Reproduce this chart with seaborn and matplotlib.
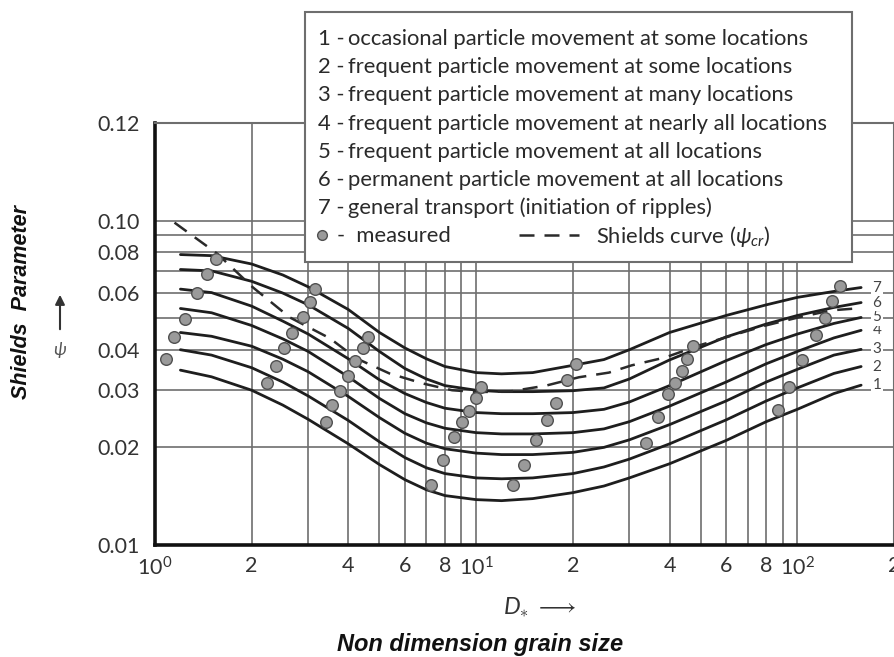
import numpy as np
import pandas as pd
import matplotlib
matplotlib.use("Agg")
import matplotlib.pyplot as plt
import seaborn as sns
from matplotlib.patches import Rectangle, FancyArrowPatch
from matplotlib.lines import Line2D
from matplotlib.ticker import FixedLocator, NullFormatter

# ---------------- data ----------------
D_GRID = [1.2, 1.5, 2, 2.5, 3, 4, 5, 6, 7, 8, 10, 12, 15, 20, 25, 30, 40, 60, 80, 100, 130, 158]

CURVE_1 = [0.0346, 0.0330, 0.0300, 0.0270, 0.0244, 0.0205, 0.0177, 0.0159, 0.0148, 0.0142, 0.0138,
           0.0137, 0.0139, 0.0145, 0.0152, 0.0161, 0.0178, 0.0210, 0.0240, 0.0262, 0.0293, 0.0311]
CURVE_2 = [0.0400, 0.0385, 0.0352, 0.0318, 0.0288, 0.0242, 0.0208, 0.0186, 0.0173, 0.0166, 0.0161,
           0.0160, 0.0161, 0.0166, 0.0174, 0.0184, 0.0205, 0.0243, 0.0278, 0.0305, 0.0338, 0.0355]
CURVE_3 = [0.0452, 0.0440, 0.0410, 0.0374, 0.0342, 0.0287, 0.0247, 0.0221, 0.0206, 0.0198, 0.0192,
           0.0190, 0.0190, 0.0193, 0.0200, 0.0211, 0.0235, 0.0278, 0.0318, 0.0348, 0.0385, 0.0401]
CURVE_4 = [0.0536, 0.0520, 0.0475, 0.0432, 0.0395, 0.0330, 0.0283, 0.0254, 0.0238, 0.0229, 0.0222,
           0.0220, 0.0220, 0.0222, 0.0228, 0.0240, 0.0268, 0.0318, 0.0362, 0.0395, 0.0435, 0.0459]
CURVE_5 = [0.0615, 0.0600, 0.0545, 0.0490, 0.0447, 0.0375, 0.0323, 0.0293, 0.0275, 0.0264, 0.0256,
           0.0254, 0.0254, 0.0256, 0.0262, 0.0276, 0.0310, 0.0370, 0.0415, 0.0447, 0.0482, 0.0503]
CURVE_6 = [0.0707, 0.0700, 0.0650, 0.0598, 0.0550, 0.0465, 0.0395, 0.0350, 0.0325, 0.0310, 0.0300,
           0.0297, 0.0297, 0.0299, 0.0305, 0.0325, 0.0372, 0.0438, 0.0480, 0.0510, 0.0540, 0.0559]
CURVE_7 = [0.0786, 0.0780, 0.0735, 0.0680, 0.0625, 0.0532, 0.0452, 0.0405, 0.0375, 0.0355, 0.0340,
           0.0337, 0.0340, 0.0358, 0.0373, 0.0400, 0.0452, 0.0510, 0.0550, 0.0580, 0.0605, 0.0622]
CURVE_NAMES = ["1", "2", "3", "4", "5", "6", "7"]

SHIELDS_D = [1.15, 1.56, 2.02, 2.63, 3.5, 4.24, 5.37, 6.8, 8.42, 10.2, 12.9, 16.5, 20.9, 25.9,
             30.5, 38.9, 49.3, 62.4, 79.6, 100.7, 127.5, 152]
SHIELDS_PSI = [0.0986, 0.0792, 0.0622, 0.0503, 0.0434, 0.0376, 0.0338, 0.0315, 0.0300, 0.0296,
               0.0298, 0.0310, 0.0329, 0.0340, 0.0358, 0.0379, 0.0412, 0.0442, 0.0475, 0.0503,
               0.0529, 0.0536]

MEAS_D = [1.08, 1.15, 1.24, 1.35, 1.45, 1.55,
          2.24, 2.38, 2.52, 2.68, 2.88, 3.03, 3.16,
          3.40, 3.57, 3.78, 3.98, 4.21, 4.43, 4.59,
          7.25, 7.90, 8.55, 9.05, 9.51, 10.0, 10.36,
          13.0, 14.1, 15.4, 16.6, 17.7, 19.2, 20.4,
          33.7, 36.8, 39.7, 41.5, 43.6, 45.2, 47.2,
          87.3, 94.4, 103.6, 114.6, 122.2, 128.5, 136.0]
MEAS_PSI = [0.0374, 0.0437, 0.0496, 0.0600, 0.0687, 0.0759,
            0.0315, 0.0356, 0.0404, 0.0449, 0.0503, 0.0560, 0.0614,
            0.0239, 0.0270, 0.0298, 0.0331, 0.0368, 0.0404, 0.0439,
            0.0153, 0.0183, 0.0215, 0.0239, 0.0258, 0.0283, 0.0306,
            0.0153, 0.0176, 0.0210, 0.0243, 0.0274, 0.0322, 0.0361,
            0.0206, 0.0248, 0.0292, 0.0315, 0.0343, 0.0374, 0.0412,
            0.0260, 0.0308, 0.0371, 0.0443, 0.0500, 0.0564, 0.0631]

Y_TICKS = [0.01, 0.02, 0.03, 0.04, 0.06, 0.08, 0.10, 0.2]
Y_TICKLABELS = ["0.01", "0.02", "0.03", "0.04", "0.06", "0.08", "0.10", "0.12"]
Y_MINOR = [0.05, 0.07, 0.09]
X_TICKS = [1, 2, 4, 6, 8, 10, 20, 40, 60, 80, 100, 200]
X_TICKLABELS = [r"$\mathregular{10^0}$", "2", "4", "6", "8", r"$\mathregular{10^1}$",
                "2", "4", "6", "8", r"$\mathregular{10^2}$", "2"]
X_MINOR = [3, 5, 7, 9, 30, 50, 70, 90]

LEGEND_NUMS = ["1 -", "2 -", "3 -", "4 -", "5 -", "6 -", "7 -"]
LEGEND_TEXTS = ["occasional particle movement at some locations",
                "frequent particle movement at some locations",
                "frequent particle movement at many locations",
                "frequent particle movement at nearly all locations",
                "frequent particle movement at all locations",
                "permanent particle movement at all locations",
                "general transport (initiation of ripples)"]

# ---------------- style ----------------
sns.set_theme(style="white")
plt.rcParams["font.family"] = ["Lato", "DejaVu Sans"]
plt.rcParams["mathtext.fontset"] = "custom"
plt.rcParams["mathtext.rm"] = "Lato"
plt.rcParams["mathtext.it"] = "Lato:italic"

W, H = 894, 657
fig = plt.figure(figsize=(W / 100, H / 100), dpi=100)
fig.patch.set_facecolor("white")
ax = fig.add_axes([155 / W, (H - 545) / H, (894 - 155) / W, (545 - 123) / H])

curves = [CURVE_1, CURVE_2, CURVE_3, CURVE_4, CURVE_5, CURVE_6, CURVE_7]
df = pd.DataFrame({
    "D": np.tile(D_GRID, len(curves)),
    "psi": np.concatenate(curves),
    "curve": np.repeat(CURVE_NAMES, len(D_GRID)),
})
shields = pd.DataFrame({"D": SHIELDS_D, "psi": SHIELDS_PSI})
meas = pd.DataFrame({"D": MEAS_D, "psi": MEAS_PSI})

ax.set_xscale("log")
ax.set_yscale("log")

sns.lineplot(data=df, x="D", y="psi", hue="curve", palette=["#1e1e1e"] * 7,
             estimator=None, sort=False, legend=False, lw=2.0, ax=ax, zorder=3)
sns.lineplot(data=shields, x="D", y="psi", color="#2a2a2a", estimator=None, sort=False,
             lw=1.8, ax=ax, zorder=3, dashes=False)
ax.lines[-1].set_dashes([6, 4])
sns.scatterplot(data=meas, x="D", y="psi", s=70, color="#9a9a9a", edgecolor="#505050",
                linewidth=1.0, ax=ax, zorder=4)

ax.set_xlim(1, 200)
ax.set_ylim(0.01, 0.2)
ax.set_xticks(X_TICKS)
ax.set_xticklabels(X_TICKLABELS)
ax.xaxis.set_minor_locator(FixedLocator(X_MINOR))
ax.xaxis.set_minor_formatter(NullFormatter())
ax.set_yticks(Y_TICKS)
ax.set_yticklabels(Y_TICKLABELS)
ax.yaxis.set_minor_locator(FixedLocator(Y_MINOR))
ax.yaxis.set_minor_formatter(NullFormatter())
ax.grid(True, which="both", color="#6e6e6e", lw=1.2)
ax.set_axisbelow(True)
ax.tick_params(which="both", length=0)
ax.tick_params(axis="x", pad=8, labelsize=15.5, labelcolor="#333333")
ax.tick_params(axis="y", pad=11, labelsize=15.5, labelcolor="#333333")
ax.set_xlabel("")
ax.set_ylabel("")
for s in ["left", "bottom"]:
    ax.spines[s].set_color("#111111")
    ax.spines[s].set_linewidth(2.6)
for s in ["top", "right"]:
    ax.spines[s].set_color("#6e6e6e")
    ax.spines[s].set_linewidth(1.5)

# curve numbers at the right ends
for name, c in zip(CURVE_NAMES, curves):
    ax.text(177, c[-1], name, ha="center", va="center", fontsize=11, color="#444444",
            zorder=5, bbox=dict(fc="white", ec="none", pad=1.0))

# axis titles
fig.text(540 / W, 1 - 607 / H, r"$D_{\ast}$ $\longrightarrow$", ha="center", va="center",
         fontsize=17, color="#333333")
fig.text(480 / W, 1 - 645 / H, "Non dimension grain size", ha="center", va="center",
         fontsize=17, fontweight="bold", fontstyle="italic",
         family=["Liberation Sans", "DejaVu Sans"], color="#111111")
fig.text(22 / W, 1 - 302 / H, "Shields  Parameter", ha="center", va="center", rotation=90,
         fontsize=15.5, fontweight="bold", fontstyle="italic",
         family=["Liberation Sans", "DejaVu Sans"], color="#111111")
fig.add_artist(FancyArrowPatch((60 / W, 1 - 332 / H), (60 / W, 1 - 292 / H),
                               transform=fig.transFigure, arrowstyle="-|>",
                               mutation_scale=14, color="#333333", lw=1.5))
fig.text(60 / W, 1 - 350 / H, r"$\psi$", ha="center", va="center", fontsize=13,
         color="#555555")

# legend box
fig.add_artist(Rectangle((305 / W, 1 - 262 / H), (852 - 305) / W, (262 - 12) / H,
                         transform=fig.transFigure, fc="white", ec="#6e6e6e", lw=1.5,
                         zorder=5))
FS = 15.8
row_y = [39 + 28.2 * i for i in range(8)]
for i, (n, t) in enumerate(zip(LEGEND_NUMS, LEGEND_TEXTS)):
    fig.text(318 / W, 1 - row_y[i] / H, n, ha="left", va="center", fontsize=FS,
             color="#2a2a2a", zorder=6)
    fig.text(348 / W, 1 - row_y[i] / H, t, ha="left", va="center", fontsize=FS,
             color="#2a2a2a", zorder=6)

h_meas = Line2D([], [], marker="o", ls="none", markersize=7, markerfacecolor="#9a9a9a",
                markeredgecolor="#505050")
leg1 = fig.legend([h_meas], ["-  measured"], loc="center left",
                  bbox_to_anchor=(314 / W, 1 - row_y[7] / H), frameon=False,
                  handlelength=0.7, handletextpad=0.35, fontsize=FS, borderpad=0,
                  borderaxespad=0)
leg1.set_zorder(7)
h_sh = Line2D([], [], color="#2a2a2a", lw=1.8, dashes=[6, 4])
leg2 = fig.legend([h_sh], [r"Shields curve ($\psi_{cr}$)"], loc="center left",
                  bbox_to_anchor=(519 / W, 1 - row_y[7] / H), frameon=False,
                  handlelength=2.75, handletextpad=0.75, fontsize=FS, borderpad=0,
                  borderaxespad=0)
leg2.set_zorder(7)
for leg in (leg1, leg2):
    for t in leg.get_texts():
        t.set_color("#2a2a2a")

fig.savefig("out.png", dpi=100, facecolor="white")
